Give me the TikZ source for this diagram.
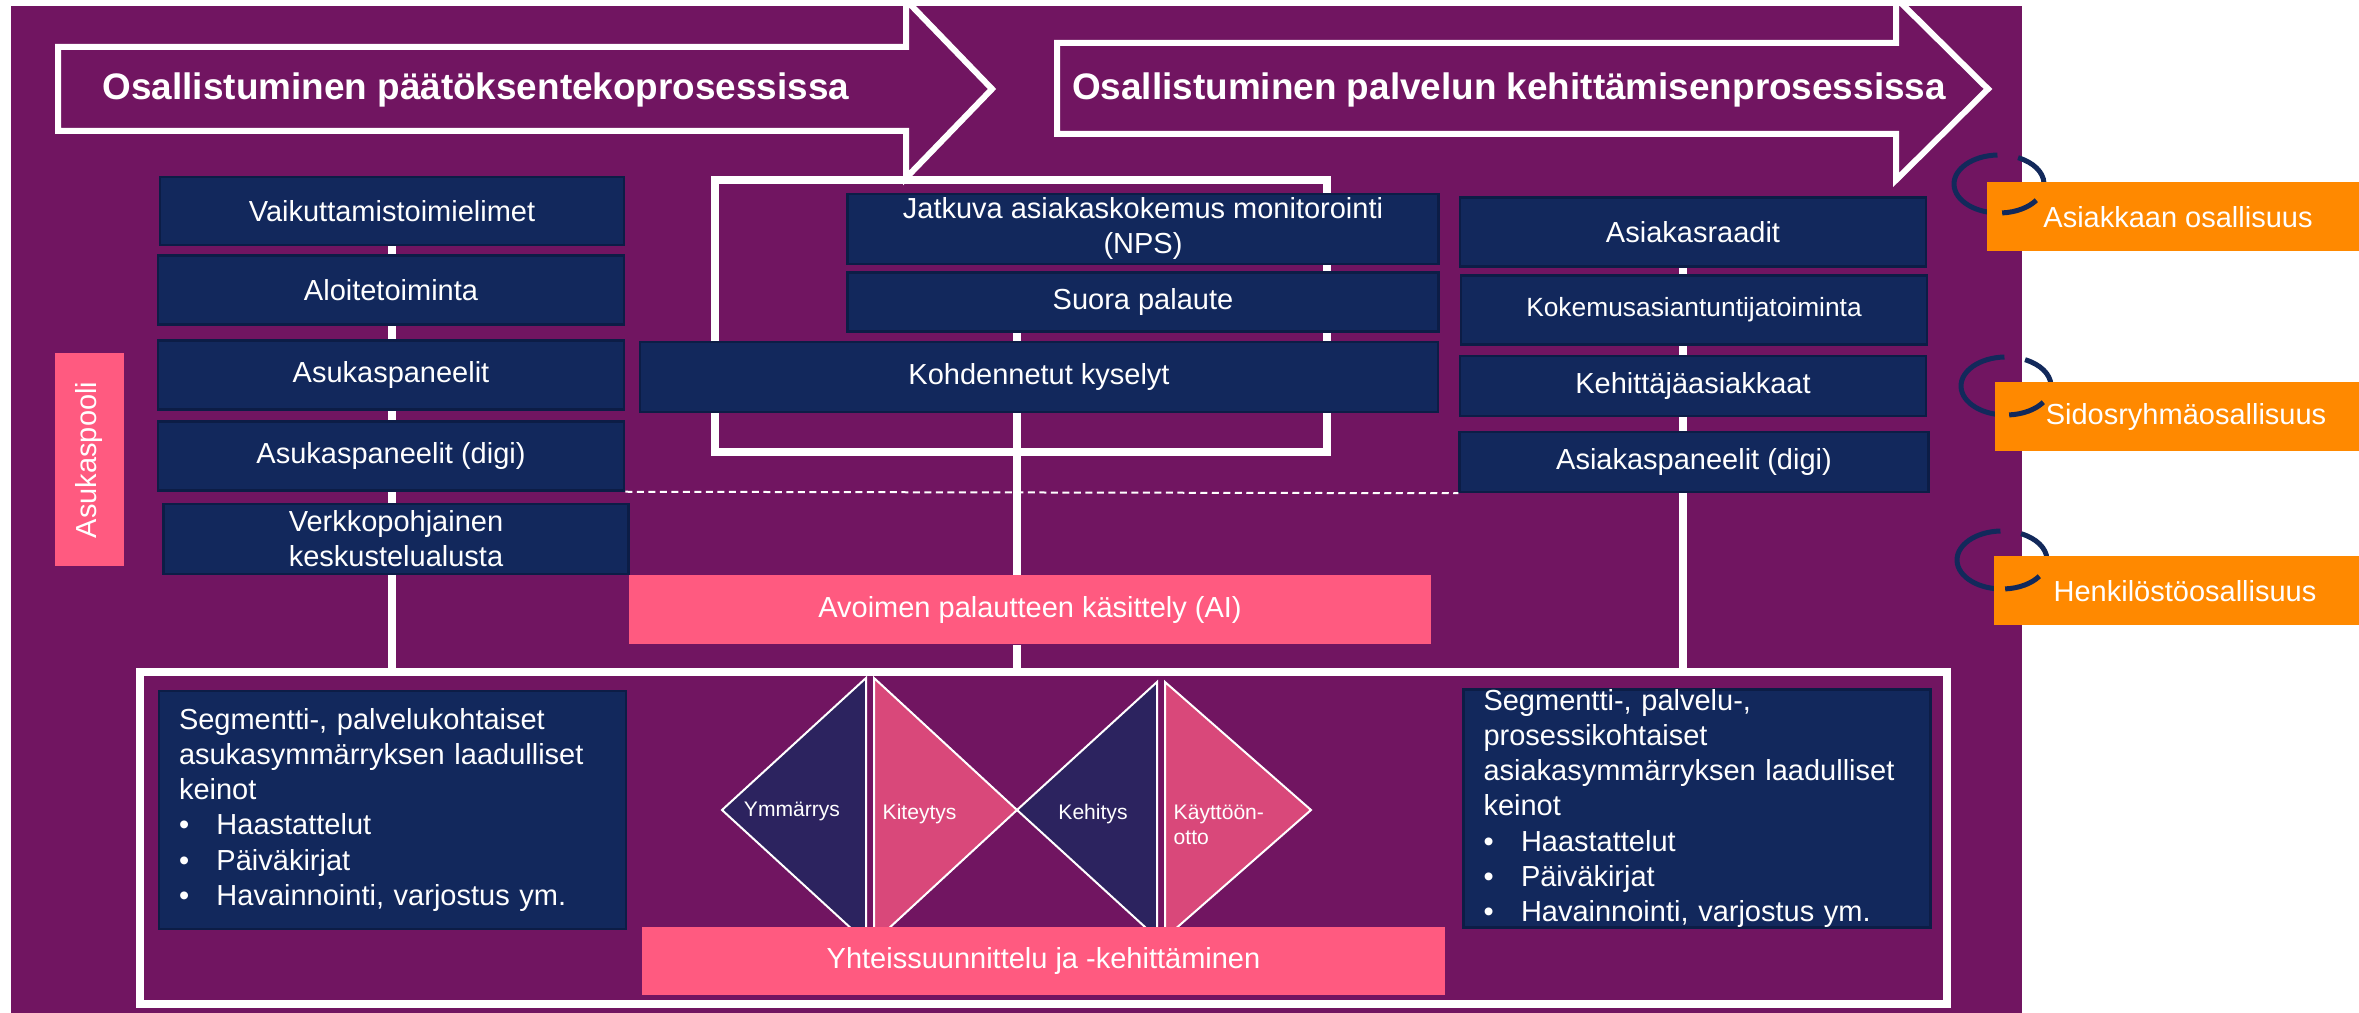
\documentclass[tikz,border=0pt]{standalone}
\usepackage{fontspec}
\setmainfont{Liberation Sans}

\definecolor{bgviolet}{RGB}{113,21,97}
\definecolor{boxnavy}{RGB}{18,40,92}
\definecolor{edgenavy}{RGB}{12,29,70}
\definecolor{poolpink}{RGB}{255,90,128}
\definecolor{partorange}{RGB}{255,137,0}
\definecolor{tridark}{RGB}{44,35,95}
\definecolor{tripink}{RGB}{217,72,122}
\definecolor{ringnavy}{RGB}{18,41,91}

\def\boxfont{\fontsize{8.25pt}{9.96pt}\selectfont}
\def\smallboxfont{\fontsize{7.5pt}{9pt}\selectfont}
\def\titlefont{\fontsize{10.5pt}{12.6pt}\selectfont\bfseries}
\def\phasefont{\fontsize{6pt}{7.1pt}\selectfont}
\def\bullitem#1{\makebox[3.75mm][l]{\textbullet}#1}

\pgfdeclarelayer{backdrop}
\pgfdeclarelayer{lines}
\pgfsetlayers{backdrop,lines,main}

\begin{document}
\begin{tikzpicture}[x=0.1mm, y=-0.1mm,
  navybox/.style={fill=boxnavy, draw=edgenavy, line width=0.25mm, text=white, font=\boxfont, inner sep=0pt, align=center},
  pinkbox/.style={fill=poolpink, text=white, font=\boxfont, inner sep=0pt, align=center},
  orangebox/.style={fill=partorange, text=white, font=\boxfont, inner sep=0pt, minimum width=38.3mm, minimum height=6.9mm},
  segbox/.style={navybox, align=left, text width=42.7mm, inner xsep=2mm, minimum height=23.8mm},
  whiteframe/.style={draw=white, line width=0.75mm, inner sep=0pt},
  connector/.style={white, line width=0.75mm},
  bigarrow/.style={white, line width=0.6mm},
  headline/.style={text=white, font=\titlefont, anchor=base, inner sep=0pt},
  halfdiamond/.style={draw=white, line width=0.2mm},
  phase/.style={text=white, font=\phasefont, inner sep=0pt, align=left},
  ring/.style={ringnavy, line width=0.5mm},
  ringarc/.style={x radius=4.5mm, y radius=2.9mm}]

  \useasboundingbox (0,0) rectangle (2359,1013);

  \begin{pgfonlayer}{backdrop}
    \fill [bgviolet] (11,6) rectangle (2022,1013);
  \end{pgfonlayer}

  \draw [bigarrow] (58,47) -- (906,47) -- (906,0) -- (992,89) -- (906,178) -- (906,131) -- (58,131) -- cycle;
  \node [headline] (title1) at (476,100) {Osallistuminen päätöksentekoprosessissa};

  \draw [bigarrow] (1057,43) -- (1896,43) -- (1896,-2) -- (1988,89) -- (1896,180) -- (1896,134) -- (1057,134) -- cycle;
  \node [headline] (title2) at (1509,100) {Osallistuminen palvelun kehittämisenprosessissa};

  \node [pinkbox, rotate=90, minimum width=21.3mm, minimum height=6.9mm] (pooli) at (89,460) {Asukaspooli};

  \node [navybox, minimum width=46.4mm, minimum height=6.8mm] (vaik) at (392,211) {Vaikuttamistoimielimet};
  \node [navybox, minimum width=46.6mm, minimum height=6.9mm] (aloite) at (391,290) {Aloitetoiminta};
  \node [navybox, minimum width=46.6mm, minimum height=6.9mm] (asukaspan) at (391,375) {Asukaspaneelit};
  \node [navybox, minimum width=46.6mm, minimum height=6.9mm] (asukasdigi) at (391,456) {Asukaspaneelit (digi)};
  \node [navybox, minimum width=46.5mm, minimum height=7.0mm] (verkko) at (396,539) {Verkkopohjainen\\keskustelualusta};

  \node [navybox, minimum width=59.1mm, minimum height=7.0mm] (nps) at (1143,229) {Jatkuva asiakaskokemus monitorointi\\(NPS)};
  \node [navybox, minimum width=59.1mm, minimum height=5.9mm] (suora) at (1143,302) {Suora palaute};
  \node [navybox, minimum width=79.8mm, minimum height=7.0mm] (kysely) at (1039,377) {Kohdennetut kyselyt};
  \node [pinkbox, minimum width=80.2mm, minimum height=6.9mm] (avoin) at (1030,610) {Avoimen palautteen käsittely (AI)};

  \node [navybox, minimum width=46.6mm, minimum height=6.9mm] (raadit) at (1693,232) {Asiakasraadit};
  \node [navybox, font=\smallboxfont, minimum width=46.6mm, minimum height=6.9mm] (kokemus) at (1694,310) {Kokemusasiantuntijatoiminta};
  \node [navybox, minimum width=46.6mm, minimum height=6.0mm] (kehittajat) at (1693,386) {Kehittäjäasiakkaat};
  \node [navybox, minimum width=46.9mm, minimum height=6.0mm] (asiakasdigi) at (1694,462) {Asiakaspaneelit (digi)};

  \draw [white, line width=0.2mm, dash pattern=on 0.7mm off 0.45mm] (asukasdigi.south east) -- (asiakasdigi.south west);

  \node [segbox] (segleft) at (392.5,810) {Segmentti-, palvelukohtaiset\\asukasymmärryksen laadulliset\\keinot\\\bullitem{Haastattelut}\\\bullitem{Päiväkirjat}\\\bullitem{Havainnointi, varjostus ym.}};
  \node [segbox] (segright) at (1697,808.5) {Segmentti-, palvelu-,\\prosessikohtaiset\\asiakasymmärryksen laadulliset\\keinot\\\bullitem{Haastattelut}\\\bullitem{Päiväkirjat}\\\bullitem{Havainnointi, varjostus ym.}};

  \filldraw [halfdiamond, fill=tridark] (722,810) -- (866,678) -- (866,942) -- cycle;
  \filldraw [halfdiamond, fill=tripink] (874,678) -- (1017,810) -- (874,942) -- cycle;
  \filldraw [halfdiamond, fill=tridark] (1017,810) -- (1157,682) -- (1157,938) -- cycle;
  \filldraw [halfdiamond, fill=tripink] (1165,682) -- (1311,810) -- (1165,938) -- cycle;
  \node [phase, anchor=base] (ymmarrys) at (792,817) {Ymmärrys};
  \node [phase, anchor=base west] (kiteytys) at (882,820) {Kiteytys};
  \node [phase, anchor=base] (kehitys) at (1093,820) {Kehitys};
  \node [phase, anchor=west] (kayttoon) at (1173,825) {Käyttöön-\\otto};

  \node [pinkbox, minimum width=80.3mm, minimum height=6.8mm] (yhteis) at (1043.5,961) {Yhteissuunnittelu ja -kehittäminen};

  \node [orangebox] (asiakas) at (2178,217) {Asiakkaan osallisuus};
  \node [orangebox] (sidos) at (2186,417) {Sidosryhmäosallisuus};
  \node [orangebox] (henkilo) at (2185,591) {Henkilöstöosallisuus};

  \begin{pgfonlayer}{lines}
    \node [whiteframe, minimum width=61.2mm, minimum height=27.2mm] (feedbackframe) at (1021,316) {};
    \node [whiteframe, line width=0.8mm, minimum width=180.7mm, minimum height=33.2mm] (codesignframe) at (1043.5,838) {};
    \coordinate (midline) at (1017,0);
    \coordinate (rightline) at (1683,0);
    \draw [connector] (vaik.south) -- (vaik.south |- codesignframe.north);
    \draw [connector] (suora.north -| midline) -- (avoin.north -| midline);
    \draw [connector] (avoin.south -| midline) -- (codesignframe.north -| midline);
    \draw [connector] (raadit.south -| rightline) -- (codesignframe.north -| rightline);
    \draw [ring] (1999,184) ++(92:4.5mm and 2.9mm) arc [ringarc, start angle=92, end angle=425];
    \draw [ring] (2006,386) ++(92:4.5mm and 2.9mm) arc [ringarc, start angle=92, end angle=425];
    \draw [ring] (2002,560) ++(92:4.5mm and 2.9mm) arc [ringarc, start angle=92, end angle=425];
  \end{pgfonlayer}

  \draw [ring] (1999,184) ++(274:4.5mm and 2.9mm) arc [ringarc, start angle=274, end angle=326];
  \draw [ring] (2006,386) ++(274:4.5mm and 2.9mm) arc [ringarc, start angle=274, end angle=326];
  \draw [ring] (2002,560) ++(274:4.5mm and 2.9mm) arc [ringarc, start angle=274, end angle=326];

\end{tikzpicture}
\end{document}
